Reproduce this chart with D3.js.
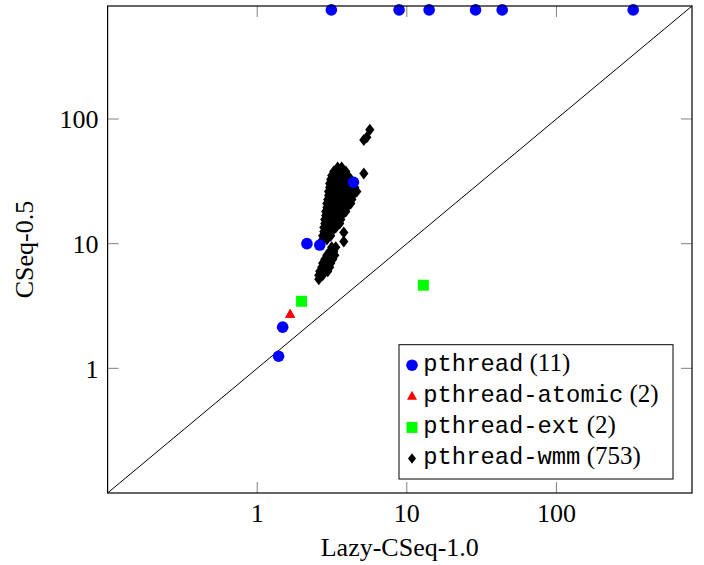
<!DOCTYPE html>
<html>
<head>
<meta charset="utf-8">
<script src="https://cdn.jsdelivr.net/npm/d3@7"></script>
<style>
  html, body { margin: 0; padding: 0; background: #fff; }
  svg { display: block; }
</style>
</head>
<body>
<svg id="chart" width="704" height="565"></svg>
<script>
// ---------- data ----------
const xTicks = [1, 10, 100];
const yTicks = [1, 10, 100];
const xLabel = "Lazy-CSeq-1.0";
const yLabel = "CSeq-0.5";

const pthread = [
  [3.13, 750], [8.88, 750], [14.1, 750], [28.8, 750], [43.4, 750], [326, 750],
  [1.48, 2.14], [1.39, 1.25], [2.15, 10.0], [2.62, 9.75], [4.4, 31.1]
];
const pthreadAtomic = [[1.66, 2.72], [1.66, 2.72]];
const pthreadExt = [[1.98, 3.45], [12.9, 4.64]];
const pthreadWmm = [
  [5.66, 82.1], [5.40, 71.5], [5.16, 67.7], [5.16, 36.5], [3.79, 12.3], [3.79, 10.4],
  [3.45, 40.8], [3.67, 40.8],
  [3.25, 37.9], [3.45, 37.9], [3.67, 37.9], [3.91, 37.9],
  [3.15, 35.2], [3.35, 35.2], [3.56, 35.2], [3.79, 35.2], [4.03, 35.2],
  [3.10, 32.7], [3.30, 32.7], [3.50, 32.7], [3.73, 32.7], [3.97, 32.7], [4.22, 32.7],
  [3.05, 30.4], [3.25, 30.4], [3.45, 30.4], [3.67, 30.4], [3.91, 30.4], [4.16, 30.4], [4.42, 30.4],
  [3.05, 28.2], [3.25, 28.2], [3.45, 28.2], [3.67, 28.2], [3.91, 28.2], [4.16, 28.2], [4.49, 28.2],
  [3.00, 26.2], [3.20, 26.2], [3.40, 26.2], [3.61, 26.2], [3.85, 26.2], [4.09, 26.2], [4.35, 26.2], [4.63, 26.2],
  [3.00, 24.3], [3.20, 24.3], [3.40, 24.3], [3.61, 24.3], [3.85, 24.3], [4.09, 24.3], [4.35, 24.3],
  [2.96, 22.6], [3.15, 22.6], [3.35, 22.6], [3.56, 22.6], [3.79, 22.6], [4.03, 22.6], [4.29, 22.6],
  [2.92, 21.0], [3.10, 21.0], [3.30, 21.0], [3.51, 21.0], [3.73, 21.0], [3.97, 21.0], [4.22, 21.0],
  [2.92, 19.5], [3.10, 19.5], [3.30, 19.5], [3.51, 19.5], [3.73, 19.5], [3.97, 19.5],
  [2.87, 18.1], [3.05, 18.1], [3.25, 18.1], [3.45, 18.1], [3.67, 18.1], [3.91, 18.1],
  [2.87, 16.8], [3.05, 16.8], [3.25, 16.8], [3.45, 16.8], [3.67, 16.8],
  [2.83, 15.6], [3.01, 15.6], [3.20, 15.6], [3.40, 15.6], [3.62, 15.6],
  [2.83, 14.5], [3.01, 14.5], [3.20, 14.5], [3.40, 14.5], [3.56, 14.5],
  [2.79, 13.5], [2.96, 13.5], [3.15, 13.5], [3.35, 13.5],
  [2.79, 12.5], [2.96, 12.5], [3.15, 12.5],
  [2.74, 11.6], [2.92, 11.6], [3.10, 11.6],
  [2.74, 10.8], [2.92, 10.8],
  [3.15, 9.34], [3.35, 9.34],
  [3.05, 8.67], [3.25, 8.67],
  [2.92, 8.06], [3.10, 8.06], [3.30, 8.06],
  [2.83, 7.49], [3.01, 7.49], [3.20, 7.49],
  [2.74, 6.96], [2.92, 6.96], [3.10, 6.96],
  [2.70, 6.46], [2.87, 6.46], [3.05, 6.46],
  [2.62, 6.00], [2.79, 6.00], [2.96, 6.00],
  [2.58, 5.57], [2.74, 5.57],
  [2.58, 5.18]
];

const legendEntries = [
  { name: "pthread", count: "(11)", shape: "circle", color: "#0000ff" },
  { name: "pthread-atomic", count: "(2)", shape: "triangle", color: "#ff0000" },
  { name: "pthread-ext", count: "(2)", shape: "square", color: "#00ff00" },
  { name: "pthread-wmm", count: "(753)", shape: "diamond", color: "#000000" }
];

// ---------- layout ----------
const svg = d3.select("#chart");
const L = 107.6, R = 692, T = 6, B = 493;
const domainMin = 0.1, domainMax = 806;

const x = d3.scaleLog().domain([domainMin, domainMax]).range([L, R]);
const y = d3.scaleLog().domain([domainMin, domainMax]).range([B, T]);

const serif = "'Liberation Serif', 'Times New Roman', serif";
const mono = "'Liberation Mono', 'Courier New', monospace";

function markerPath(shape, legend) {
  if (shape === "triangle") return "M0,-5.5L5,3.5L-5,3.5Z";
  if (shape === "square") return "M-5.5,-5.5H5.5V5.5H-5.5Z";
  if (shape === "diamond") return legend ? "M0,-5.3L4,0L0,5.3L-4,0Z" : "M0,-6L4.6,0L0,6L-4.6,0Z";
  return null;
}
function drawMarker(g, shape, color, cx, cy, legend) {
  if (shape === "circle") {
    g.append("circle").attr("cx", cx).attr("cy", cy).attr("r", 5.8).attr("fill", color);
  } else {
    g.append("path").attr("d", markerPath(shape, legend))
      .attr("transform", `translate(${cx},${cy})`).attr("fill", color);
  }
}

// ticks (inside, both sides)
const tickLen = 11;
const tickG = svg.append("g").attr("stroke", "#808080").attr("stroke-width", 1);
xTicks.forEach(t => {
  const px = x(t);
  tickG.append("line").attr("x1", px).attr("x2", px).attr("y1", B).attr("y2", B - tickLen);
  tickG.append("line").attr("x1", px).attr("x2", px).attr("y1", T).attr("y2", T + tickLen);
});
yTicks.forEach(t => {
  const py = y(t);
  tickG.append("line").attr("x1", L).attr("x2", L + tickLen).attr("y1", py).attr("y2", py);
  tickG.append("line").attr("x1", R).attr("x2", R - tickLen).attr("y1", py).attr("y2", py);
});

// diagonal
svg.append("line")
  .attr("x1", x(domainMin)).attr("y1", y(domainMin))
  .attr("x2", x(domainMax)).attr("y2", y(domainMax))
  .attr("stroke", "#000").attr("stroke-width", 1);

// data marks
const marks = svg.append("g");
pthreadWmm.forEach(d => drawMarker(marks, "diamond", "#000", x(d[0]), y(d[1]), false));
pthreadExt.forEach(d => drawMarker(marks, "square", "#00ff00", x(d[0]), y(d[1]), false));
pthreadAtomic.forEach(d => drawMarker(marks, "triangle", "#ff0000", x(d[0]), y(d[1]), false));
pthread.forEach(d => drawMarker(marks, "circle", "#0000ff", x(d[0]), y(d[1]), false));

// frame
svg.append("rect").attr("x", L).attr("y", T).attr("width", R - L).attr("height", B - T)
  .attr("fill", "none").attr("stroke", "#000").attr("stroke-width", 1.2);

// tick labels
xTicks.forEach(t => {
  svg.append("text").attr("x", x(t)).attr("y", 522)
    .attr("text-anchor", "middle").attr("font-family", serif).attr("font-size", 26)
    .text(d3.format("d")(t));
});
yTicks.forEach(t => {
  svg.append("text").attr("x", 98.5).attr("y", y(t) + 9.5)
    .attr("text-anchor", "end").attr("font-family", serif).attr("font-size", 26)
    .text(d3.format("d")(t));
});

// axis labels
svg.append("text").attr("x", (L + R) / 2).attr("y", 556)
  .attr("text-anchor", "middle").attr("font-family", serif).attr("font-size", 26)
  .text(xLabel);
svg.append("text").attr("transform", `translate(33,${(T + B) / 2}) rotate(-90)`)
  .attr("text-anchor", "middle").attr("font-family", serif).attr("font-size", 26)
  .text(yLabel);

// legend
const lg = svg.append("g");
lg.append("rect").attr("x", 399).attr("y", 344.7).attr("width", 274).attr("height", 134.3)
  .attr("fill", "#fff").attr("stroke", "#000").attr("stroke-width", 1);
legendEntries.forEach((e, i) => {
  const base = 370.7 + i * 31.1;
  drawMarker(lg, e.shape, e.color, 412, base - 5.5, true);
  const t = lg.append("text").attr("x", 423.3).attr("y", base).attr("font-size", 25);
  t.append("tspan").attr("font-family", mono).attr("font-size", 23.8).text(e.name);
  t.append("tspan").attr("font-family", serif).text("\u00a0" + e.count);
});
</script>
</body>
</html>
